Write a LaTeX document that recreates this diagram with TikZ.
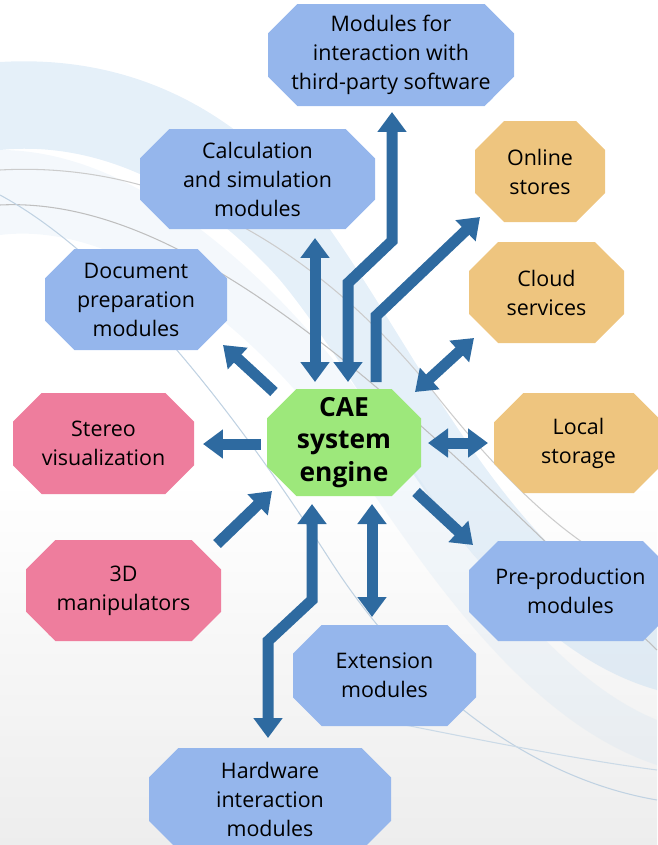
\documentclass[tikz,border=0pt]{standalone}
\usepackage{fontspec}
\setmainfont{Open Sans}
\usepackage{tikz}
\usetikzlibrary{shapes.misc}
\usetikzlibrary{arrows.meta}
\usepackage{xcolor}

\definecolor{modblue}{HTML}{95B6EC}
\definecolor{storeorange}{HTML}{EEC57F}
\definecolor{vizpink}{HTML}{EE7D9D}
\definecolor{coregreen}{HTML}{9DE87B}
\definecolor{linkblue}{HTML}{2E6AA0}
\definecolor{wavelight}{HTML}{C6DDF1}

\begin{document}
\begin{tikzpicture}
	[x=0.02cm, y=-0.02cm,
	box/.style = {
		chamfered rectangle, chamfered rectangle xsep=0.46cm,
		inner sep=0pt, align=center,
		font=\fontsize{12.2}{16.5}\selectfont
	},
	dims/.style 2 args = {
		minimum width=#1*0.02cm, minimum height=#2*0.02cm
	},
	module/.style = {box, fill=modblue},
	store/.style = {box, fill=storeorange},
	viz/.style = {box, fill=vizpink},
	core/.style = {box, fill=coregreen, font=\fontsize{15}{18.5}\selectfont\bfseries},
	link/.style = {
		draw=linkblue, line width=0.22cm,
		>={Triangle[length=0.4cm,width=0.56cm]}
	},
	wave/.style = {fill=wavelight},
	waveline/.style = {draw=#1, line width=0.6pt}
	]
	
	%Background
	\useasboundingbox (0,0) rectangle (657,845);
	\shade[top color=white, bottom color=black!7] (0,480) rectangle (657,845);
	\fill[wave, opacity=0.45] (0,62) .. controls (120,55) and (220,100) .. (300,190)
	.. controls (400,310) and (500,560) .. (657,620) -- (657,690)
	.. controls (480,640) and (380,400) .. (280,280)
	.. controls (200,190) and (100,140) .. (0,150) -- cycle;
	\fill[wave, opacity=0.2] (0,150) .. controls (150,150) and (300,300) .. (400,450)
	.. controls (480,570) and (560,680) .. (657,720) -- (657,765)
	.. controls (520,720) and (420,560) .. (350,460)
	.. controls (260,330) and (120,220) .. (0,235) -- cycle;
	\draw[waveline=black!25] (0,205) .. controls (200,195) and (420,420) .. (657,650);
	\draw[waveline=black!20] (0,170) .. controls (180,160) and (330,260) .. (440,400)
	.. controls (520,500) and (590,560) .. (657,580);
	\draw[waveline=linkblue!30] (0,195) .. controls (120,260) and (240,420) .. (330,560)
	.. controls (420,700) and (540,780) .. (657,800);
	\draw[waveline=linkblue!25] (380,720) .. controls (480,740) and (580,760) .. (657,770);
	
	%Draw nodes
	\node[module, dims={246}{102}] at (391,55) (third)
		{Modules for\\interaction with\\third-party software};
	\node[module, dims={235}{100}] at (257.5,179) (calc)
		{Calculation\\and simulation\\modules};
	\node[store, dims={130}{101}] at (540,171.5) (online) {Online\\stores};
	\node[store, dims={155}{101}] at (546.5,292.5) (cloud) {Cloud\\services};
	\node[module, dims={182}{101}] at (136,299.5) (doc)
		{Document\\preparation\\modules};
	\node[core, dims={154}{107}] at (344,442.5) (cae) {CAE\\system\\engine};
	\node[viz, dims={181}{101}] at (103.5,443.5) (stereo) {Stereo\\visualization};
	\node[store, dims={169}{100}] at (578.5,443) (local) {Local\\storage};
	\node[viz, dims={195}{101}] at (123.5,590.5) (manip) {3D\\manipulators};
	\node[module, dims={203}{100}] at (570.5,591) (preprod) {Pre-production\\modules};
	\node[module, dims={183}{101}] at (384.5,675.5) (ext) {Extension\\modules};
	\node[module, dims={242}{102}] at (270,799) (hw)
		{Hardware\\interaction\\modules};
	
	\coordinate (calcTip) at (315,238);
	\coordinate (caeCalc) at (315,382);
	\coordinate (thirdTip) at (392,112);
	\coordinate (thirdBendA) at (392,241);
	\coordinate (thirdBendB) at (348,283);
	\coordinate (caeThird) at (348,382);
	\coordinate (caeOnline) at (376,382);
	\coordinate (onlineBend) at (376,316);
	\coordinate (onlineTip) at (480,217);
	\coordinate (caeCloud) at (415,392);
	\coordinate (cloudTip) at (474,338);
	\coordinate (caeLocal) at (428,443);
	\coordinate (localTip) at (488,443);
	\coordinate (caePre) at (416,492);
	\coordinate (preTip) at (473,545);
	\coordinate (caeExt) at (372,504);
	\coordinate (extTip) at (372,617);
	\coordinate (caeHw) at (312,504);
	\coordinate (hwBendA) at (312,600);
	\coordinate (hwBendB) at (268,641);
	\coordinate (hwTip) at (268,738);
	\coordinate (manipEnd) at (217,544);
	\coordinate (caeManip) at (272,491);
	\coordinate (caeStereo) at (261,444);
	\coordinate (stereoTip) at (203,444);
	\coordinate (caeDoc) at (274,392);
	\coordinate (docTip) at (223,345);
	
	%Draw wires
	\draw[link,<->] (calcTip) -- (caeCalc);
	\draw[link,<->] (thirdTip) -- (thirdBendA) -- (thirdBendB) -- (caeThird);
	\draw[link,->] (caeOnline) -- (onlineBend) -- (onlineTip);
	\draw[link,<->] (caeCloud) -- (cloudTip);
	\draw[link,<->] (caeLocal) -- (localTip);
	\draw[link,->] (caePre) -- (preTip);
	\draw[link,<->] (caeExt) -- (extTip);
	\draw[link,<->] (caeHw) -- (hwBendA) -- (hwBendB) -- (hwTip);
	\draw[link,->] (manipEnd) -- (caeManip);
	\draw[link,->] (caeStereo) -- (stereoTip);
	\draw[link,->] (caeDoc) -- (docTip);
	
\end{tikzpicture}
\end{document}
